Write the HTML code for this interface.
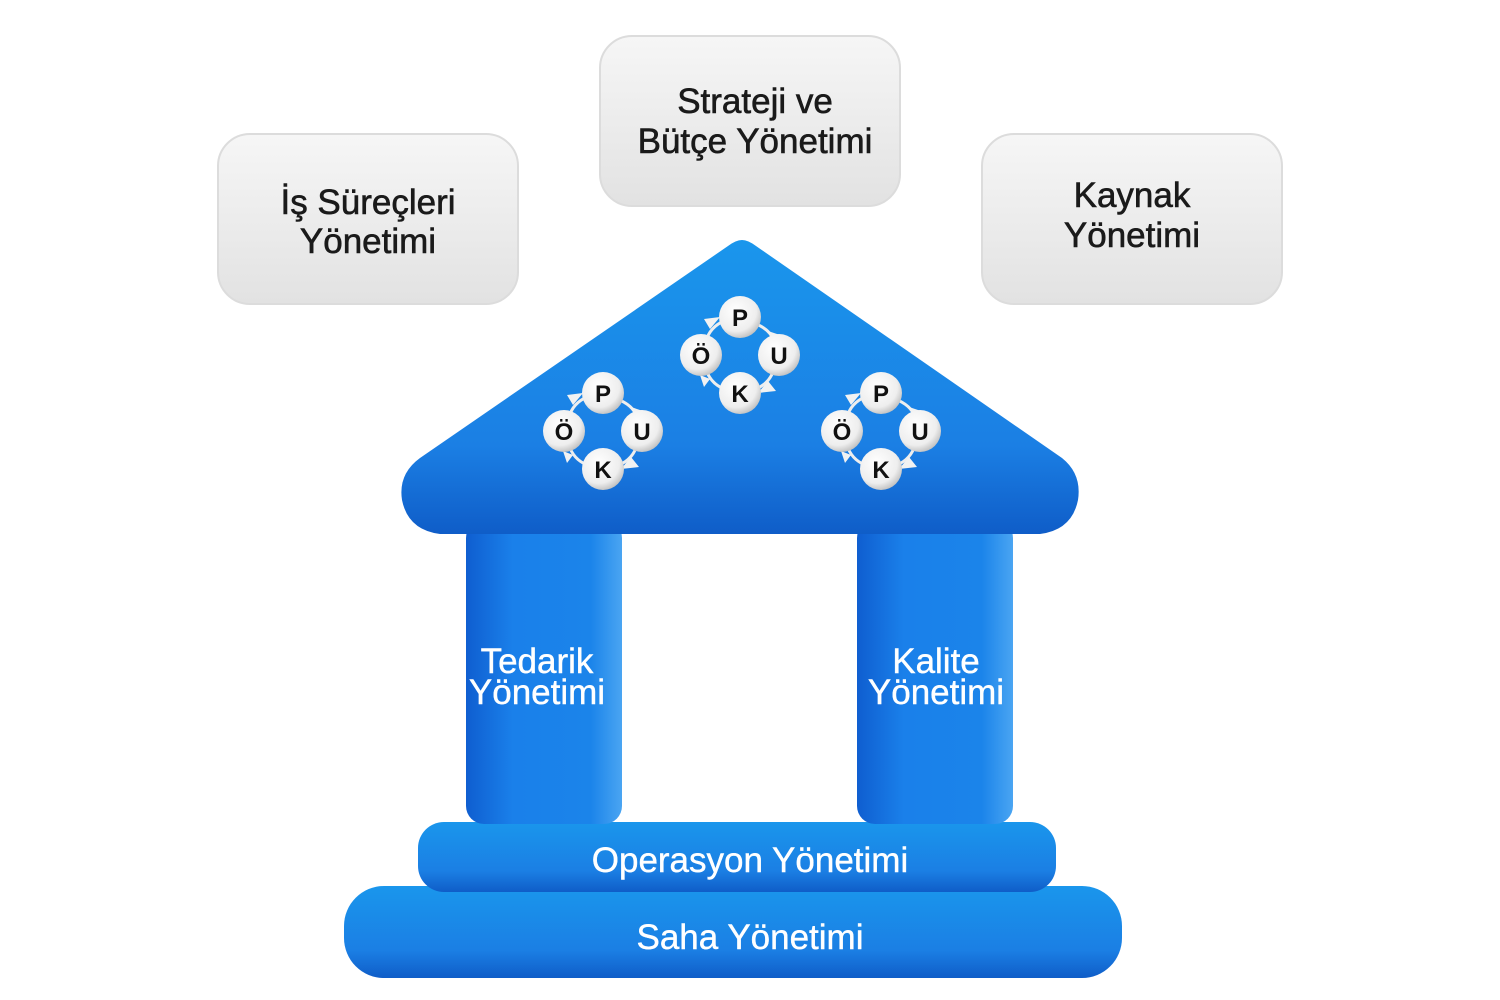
<!DOCTYPE html>
<html><head><meta charset="utf-8"><style>
html,body{margin:0;padding:0;background:#fff;width:1500px;height:1000px;overflow:hidden}
svg{display:block}
.g{font-family:"Liberation Sans",sans-serif;font-size:35px;fill:#1a1a1a;stroke:#1a1a1a;stroke-width:0.6;text-anchor:middle;letter-spacing:0px}
.w{font-family:"Liberation Sans",sans-serif;font-size:35px;fill:#fff;stroke:#fff;stroke-width:0.4;text-anchor:middle;letter-spacing:0px}
.c{font-family:"Liberation Sans",sans-serif;font-size:24px;font-weight:bold;fill:#111;text-anchor:middle}
</style></head><body>
<svg width="1500" height="1000" viewBox="0 0 1500 1000" xmlns="http://www.w3.org/2000/svg">
<defs>
<linearGradient id="gb" x1="0" y1="0" x2="0" y2="1"><stop offset="0" stop-color="#f6f6f6"/><stop offset="1" stop-color="#e2e2e2"/></linearGradient>
<linearGradient id="bl" x1="0" y1="0" x2="0" y2="1"><stop offset="0" stop-color="#1a96ec"/><stop offset="0.7" stop-color="#1b7fe4"/><stop offset="1" stop-color="#0f5dc8"/></linearGradient>
<linearGradient id="pl" x1="0" y1="0" x2="1" y2="0"><stop offset="0" stop-color="#0f5ed0"/><stop offset="0.3" stop-color="#1a80ea"/><stop offset="0.8" stop-color="#1b84ea"/><stop offset="1" stop-color="#4aa5f2"/></linearGradient>
<radialGradient id="ci" cx="0.4" cy="0.35" r="0.7"><stop offset="0" stop-color="#fff"/><stop offset="0.7" stop-color="#eee"/><stop offset="1" stop-color="#bbb"/></radialGradient>
</defs>
<rect x="218" y="134" width="300" height="170" rx="32" fill="url(#gb)" stroke="#dcdcdc" stroke-width="2"/>
<rect x="600" y="36" width="300" height="170" rx="32" fill="url(#gb)" stroke="#dcdcdc" stroke-width="2"/>
<rect x="982" y="134" width="300" height="170" rx="32" fill="url(#gb)" stroke="#dcdcdc" stroke-width="2"/>
<text class="g" x="368" y="214">İş Süreçleri</text><text class="g" x="368" y="253">Yönetimi</text>
<text class="g" x="755" y="113">Strateji ve</text><text class="g" x="755" y="153">Bütçe Yönetimi</text>
<text class="g" x="1132" y="207">Kaynak</text><text class="g" x="1132" y="247">Yönetimi</text>
<rect x="344" y="886" width="778" height="92" rx="40" fill="url(#bl)"/>
<rect x="418" y="822" width="638" height="70" rx="26" fill="url(#bl)"/>
<rect x="466" y="520" width="156" height="304" rx="18" fill="url(#pl)"/>
<rect x="857" y="520" width="156" height="304" rx="18" fill="url(#pl)"/>
<path d="M742,240 Q748,240 756,246 L1062,458 Q1082,474 1078,500 Q1072,530 1040,534 L440,534 Q408,530 402,500 Q398,474 420,458 L728,246 Q736,240 742,240 Z" fill="url(#bl)"/>
<text class="w" x="537" y="673">Tedarik</text><text class="w" x="537" y="704">Yönetimi</text>
<text class="w" x="936" y="673">Kalite</text><text class="w" x="936" y="704">Yönetimi</text>
<text class="w" x="750" y="872">Operasyon Yönetimi</text>
<text class="w" x="750" y="949">Saha Yönetimi</text>
<g transform="translate(603,431)">
<path d="M14,-32 Q30,-26 34,-14 M34,14 Q30,28 16,34 M-16,34 Q-30,28 -34,14 M-34,-14 Q-30,-28 -16,-34" stroke="#eee" stroke-width="3" fill="none"/>
<path d="M28,-24 L40,-20 L34,-10 Z M28,26 L18,38 L36,36 Z M-30,24 L-40,20 L-36,32 Z M-30,-26 L-20,-38 L-36,-36 Z" fill="#f2f2f2"/>
<circle cx="0" cy="-38" r="21" fill="url(#ci)"/><circle cx="39" cy="0" r="21" fill="url(#ci)"/><circle cx="0" cy="38" r="21" fill="url(#ci)"/><circle cx="-39" cy="0" r="21" fill="url(#ci)"/>
<text class="c" x="0" y="-29">P</text><text class="c" x="39" y="9">U</text><text class="c" x="0" y="47">K</text><text class="c" x="-39" y="9">Ö</text>
</g>
<g transform="translate(740,355)">
<path d="M14,-32 Q30,-26 34,-14 M34,14 Q30,28 16,34 M-16,34 Q-30,28 -34,14 M-34,-14 Q-30,-28 -16,-34" stroke="#eee" stroke-width="3" fill="none"/>
<path d="M28,-24 L40,-20 L34,-10 Z M28,26 L18,38 L36,36 Z M-30,24 L-40,20 L-36,32 Z M-30,-26 L-20,-38 L-36,-36 Z" fill="#f2f2f2"/>
<circle cx="0" cy="-38" r="21" fill="url(#ci)"/><circle cx="39" cy="0" r="21" fill="url(#ci)"/><circle cx="0" cy="38" r="21" fill="url(#ci)"/><circle cx="-39" cy="0" r="21" fill="url(#ci)"/>
<text class="c" x="0" y="-29">P</text><text class="c" x="39" y="9">U</text><text class="c" x="0" y="47">K</text><text class="c" x="-39" y="9">Ö</text>
</g>
<g transform="translate(881,431)">
<path d="M14,-32 Q30,-26 34,-14 M34,14 Q30,28 16,34 M-16,34 Q-30,28 -34,14 M-34,-14 Q-30,-28 -16,-34" stroke="#eee" stroke-width="3" fill="none"/>
<path d="M28,-24 L40,-20 L34,-10 Z M28,26 L18,38 L36,36 Z M-30,24 L-40,20 L-36,32 Z M-30,-26 L-20,-38 L-36,-36 Z" fill="#f2f2f2"/>
<circle cx="0" cy="-38" r="21" fill="url(#ci)"/><circle cx="39" cy="0" r="21" fill="url(#ci)"/><circle cx="0" cy="38" r="21" fill="url(#ci)"/><circle cx="-39" cy="0" r="21" fill="url(#ci)"/>
<text class="c" x="0" y="-29">P</text><text class="c" x="39" y="9">U</text><text class="c" x="0" y="47">K</text><text class="c" x="-39" y="9">Ö</text>
</g>
</svg>
</body></html>
